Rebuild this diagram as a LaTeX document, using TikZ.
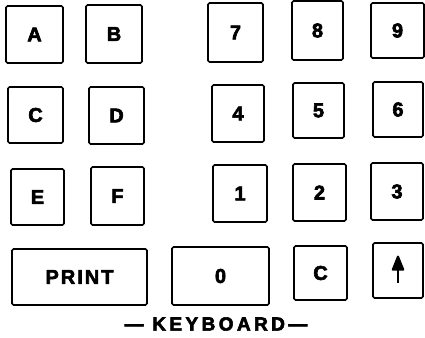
\documentclass[tikz,border=0pt]{standalone}
\usepackage{fontspec}
\setmainfont{Liberation Sans}[BoldFeatures={FakeBold=3}]
\usetikzlibrary{arrows.meta}

\begin{document}
\begin{tikzpicture}[x=1pt,y=-1pt]
	\tikzstyle{key}=[draw=black,line width=1.7pt,rounded corners=1.5pt,inner sep=0pt,font=\fontsize{20}{20}\selectfont\bfseries\addfontfeature{LetterSpace=10}]
	\useasboundingbox (0,0) rectangle (425,337);
	% letter keys
	\node[key,minimum width=57pt,minimum height=57pt](kA) at (34.5,34.5) {A};
	\node[key,minimum width=56pt,minimum height=58pt](kB) at (114,34) {B};
	\node[key,minimum width=55pt,minimum height=56pt](kC) at (35.5,115) {C};
	\node[key,minimum width=55pt,minimum height=57pt](kD) at (116.5,115.5) {D};
	\node[key,minimum width=53pt,minimum height=56pt](kE) at (37.5,197) {E};
	\node[key,minimum width=53pt,minimum height=58pt](kF) at (117.5,196) {F};
	% number keys
	\node[key,minimum width=55pt,minimum height=59pt](k7) at (235.5,32.5) {7};
	\node[key,minimum width=51pt,minimum height=59pt](k8) at (317.5,30.5) {8};
	\node[key,minimum width=53pt,minimum height=55pt](k9) at (397.5,30.5) {9};
	\node[key,minimum width=52pt,minimum height=57pt](k4) at (238,113.5) {4};
	\node[key,minimum width=51pt,minimum height=55pt](k5) at (318.5,110.5) {5};
	\node[key,minimum width=50pt,minimum height=55pt](k6) at (398,109.5) {6};
	\node[key,minimum width=54pt,minimum height=57pt](k1) at (240,193.5) {1};
	\node[key,minimum width=53pt,minimum height=57pt](k2) at (319.5,192.5) {2};
	\node[key,minimum width=52pt,minimum height=57pt](k3) at (397,191.5) {3};
	% bottom row
	\node[key,minimum width=135pt,minimum height=56pt](kprint) at (79.5,277) {PRINT};
	\node[key,minimum width=97pt,minimum height=58pt](k0) at (220.5,276) {0};
	\node[key,minimum width=53pt,minimum height=54pt](kclear) at (320.5,273) {C};
	\node[key,minimum width=50pt,minimum height=55pt](kup) at (398,270.5) {};
	\draw[line width=2pt,-{Triangle[round,length=17pt,width=13pt]}] ([yshift=-12.5pt]kup.center) -- ([yshift=15pt]kup.center);
	% caption
	\node[font=\fontsize{19}{19}\selectfont\bfseries\addfontfeature{LetterSpace=18}](caption) at (216,324) {— KEYBOARD—};
\end{tikzpicture}
\end{document}
